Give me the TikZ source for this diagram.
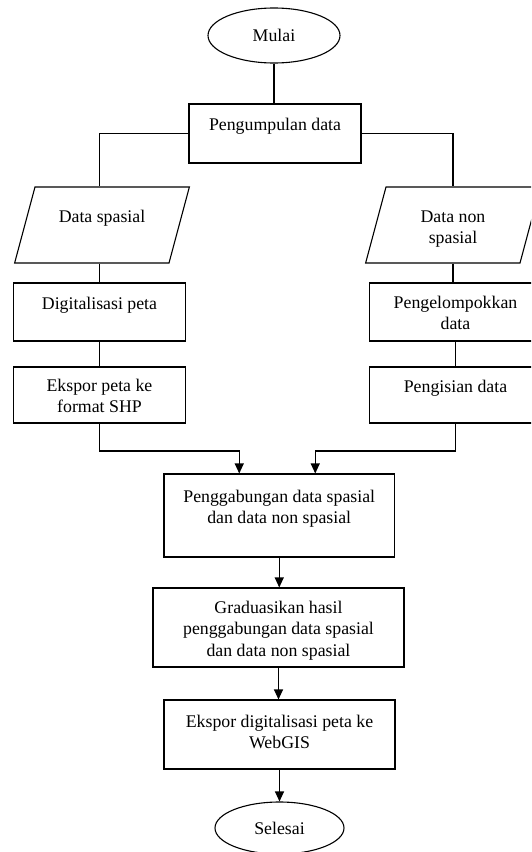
\documentclass[tikz,border=0pt]{standalone}
\usepackage{fontspec}
\setmainfont{Liberation Serif}
\usetikzlibrary{shapes.geometric,arrows.meta}
\newcommand{\boxtxt}[4]{\parbox[c][#2pt][t]{#1pt}{\centering\vspace*{#3pt}\strut #4}}
\begin{document}
\begin{tikzpicture}[x=1pt,y=-1pt, line width=1.1pt,
  font=\fontsize{17.8}{21.5}\selectfont,
  stepbox/.style={draw, rectangle, inner sep=0pt},
  term/.style={draw, ellipse, inner sep=0pt},
  io/.style={draw, trapezium, trapezium left angle=75, trapezium right angle=105, inner sep=0pt},
  conn/.style={line width=1.1pt},
  arr/.style={conn, -{Triangle[width=9pt,length=10pt]}}]
\useasboundingbox (0,0) rectangle (531,852);
\clip (0,0) rectangle (531,852);

\node[term, minimum width=132pt, minimum height=55pt] (mulai) at (274,35.5) {Mulai};
\node[stepbox] (peng) at (275,133.5) {\boxtxt{172}{59}{11}{Pengumpulan data}};
\node[io] (dsp) at (102,225) {\boxtxt{134}{76}{20}{Data spasial}};
\node[io] (dnsp) at (453,225) {\boxtxt{134}{76}{20}{Data non\\spasial}};
\node[stepbox] (dig) at (99.5,312) {\boxtxt{172}{58}{11}{Digitalisasi peta}};
\node[stepbox] (eks) at (99.5,395) {\boxtxt{172}{56}{9}{Ekspor peta ke\\format SHP}};
\node[stepbox] (pkel) at (455.5,312) {\boxtxt{172}{58}{10}{Pengelompokkan\\data}};
\node[stepbox] (isi) at (455.5,395) {\boxtxt{172}{56}{10}{Pengisian data}};
\node[stepbox] (gab) at (279.25,515.5) {\boxtxt{230.5}{83}{13}{Penggabungan data spasial\\dan data non spasial}};
\node[stepbox] (grad) at (278.5,627.5) {\boxtxt{251}{79}{10}{Graduasikan hasil\\penggabungan data spasial\\dan data non spasial}};
\node[stepbox] (exw) at (279.5,734.5) {\boxtxt{231}{69}{12}{Ekspor digitalisasi peta ke\\WebGIS}};
\node[term, minimum width=129pt, minimum height=52pt] (sel) at (279.5,828) {Selesai};

\coordinate (mrg) at (0,451);
\draw[conn] (mulai.south) -- (mulai.south |- peng.north);
\draw[conn] (peng.west) -| (dig.north |- dsp.north);
\draw[conn] (peng.east) -| (dnsp.north);
\draw[conn] (dig.north |- dsp.south) -- (dig.north);
\draw[conn] (dnsp.south) -- (dnsp.south |- pkel.north);
\draw[conn] (dig.south) -- (eks.north);
\draw[conn] (pkel.south) -- (isi.north);
\draw[arr] (eks.south) -- (eks.south |- mrg) -| ([xshift=-40pt]gab.north);
\draw[arr] (isi.south) -- (isi.south |- mrg) -| ([xshift=36pt]gab.north);
\draw[arr] (gab.south) -- (gab.south |- grad.north);
\draw[arr] (grad.south) -- (grad.south |- exw.north);
\draw[arr] (exw.south) -- (exw.south |- sel.north);
\end{tikzpicture}
\end{document}
